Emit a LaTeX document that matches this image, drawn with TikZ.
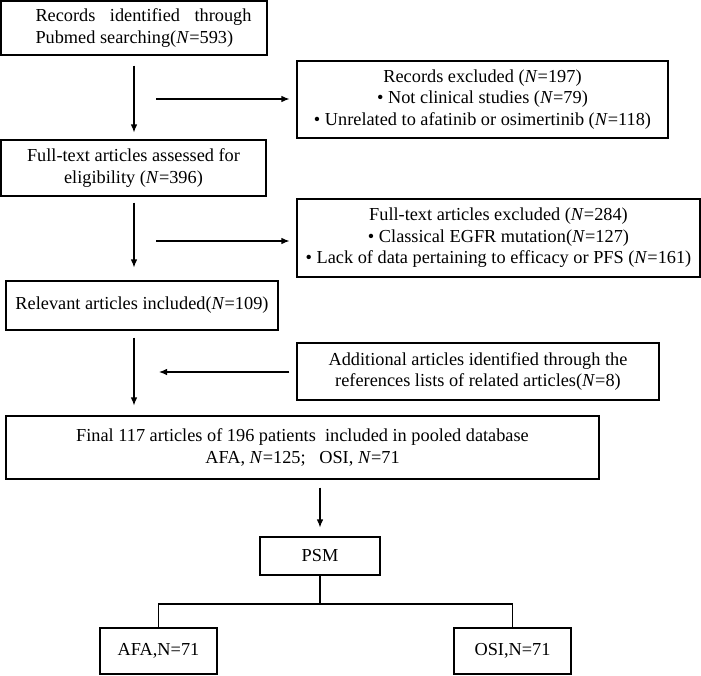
\documentclass[tikz,border=0pt]{standalone}
\usepackage{fontspec}
\setmainfont{Liberation Serif}
\usetikzlibrary{arrows.meta}
\begin{document}
\begin{tikzpicture}[x=1pt,y=-1pt,
  bx/.style={draw, line width=1.1pt, inner sep=0pt, align=center,
    font=\fontsize{18.3}{21.5}\selectfont},
  arr/.style={line width=1.1pt, -{Latex[length=8pt,width=6.5pt]}},
  ln/.style={line width=1.1pt}]
\useasboundingbox (0,0) rectangle (701,675);
\node[bx, align=left, minimum width=266pt, minimum height=54pt] (b1) at (134,28)
  {\hspace*{19pt}\makebox[216pt][s]{Records identified through}\\\hspace*{19pt}Pubmed searching(\textit{N}=593)};
\node[bx, minimum width=371pt, minimum height=77pt] (b2) at (482.5,99.5)
  {Records excluded (\textit{N}=197)\\\textbullet\ Not clinical studies (\textit{N}=79)\\\textbullet\ Unrelated to afatinib or osimertinib (\textit{N}=118)};
\node[bx, minimum width=265pt, minimum height=56pt] (b3) at (133.5,168)
  {Full-text articles assessed for\\eligibility (\textit{N}=396)};
\node[bx, minimum width=403pt, minimum height=78pt] (b4) at (498.5,238)
  {Full-text articles excluded (\textit{N}=284)\\\textbullet\ Classical EGFR mutation(\textit{N}=127)\\\textbullet\ Lack of data pertaining to efficacy or PFS (\textit{N}=161)};
\node[bx, minimum width=272pt, minimum height=49pt] (b5) at (142,305.5)
  {Relevant articles included(\textit{N}=109)};
\node[bx, minimum width=362pt, minimum height=57pt] (b6) at (478,371.5)
  {Additional articles identified through the\\references lists of related articles(\textit{N}=8)};
\node[bx, minimum width=593pt, minimum height=63pt] (b7) at (302.5,447.5)
  {Final 117 articles of 196 patients\ \ included in pooled database\\AFA, \textit{N}=125;\ \ \ OSI, \textit{N}=71};
\node[bx, minimum width=120pt, minimum height=38pt] (psm) at (320,556) {PSM};
\node[bx, minimum width=117pt, minimum height=46pt] (afa) at (158.5,651) {AFA,N=71};
\node[bx, minimum width=117pt, minimum height=46pt] (osi) at (512.5,651) {OSI,N=71};
\coordinate (c) at (134,0);
\coordinate (h1) at (156,99);
\coordinate (h2) at (156,241);
\coordinate (h3) at (159,372);
\coordinate (j) at (320,604);
\draw[arr] ([yshift=-10pt]b1.south -| c) -- ([yshift=7pt]b3.north -| c);
\draw[arr] ([yshift=-6pt]b3.south -| c) -- ([yshift=13pt]b5.north -| c);
\draw[arr] ([yshift=-7pt]b5.south -| c) -- ([yshift=10pt]b7.north -| c);
\draw[arr] ([yshift=-8pt]b7.south -| psm.north) -- ([yshift=9pt]psm.north);
\draw[arr, shorten >=7pt] (h1) -- (h1 -| b2.west);
\draw[arr, shorten >=7pt] (h2) -- (h2 -| b4.west);
\draw[arr, shorten <=7pt] (h3 -| b6.west) -- (h3);
\draw[ln] (psm.south) -- (j);
\draw[ln] (afa.north) -- (afa.north |- j) -- (osi.north |- j) -- (osi.north);
\end{tikzpicture}
\end{document}
